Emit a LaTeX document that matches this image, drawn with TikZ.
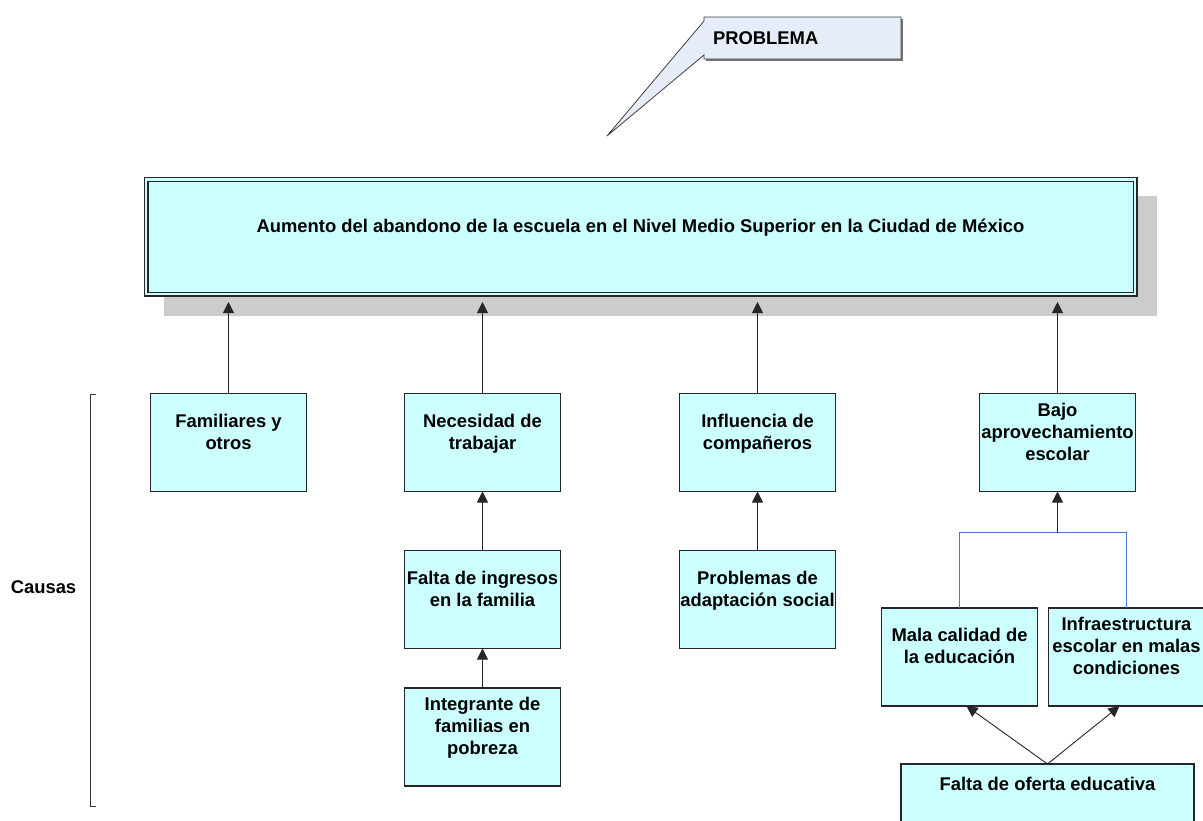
\documentclass[tikz,border=0pt]{standalone}
\usepackage{fontspec}
\setmainfont{Liberation Sans}
\usepackage{tikz}
\usetikzlibrary{shapes,arrows.meta,backgrounds}
\definecolor{boxfill}{HTML}{CCFFFF}
\definecolor{boxline}{HTML}{262626}
\definecolor{probfill}{HTML}{E6ECF8}
\definecolor{linkblue}{HTML}{4A78CC}
\definecolor{shadegray}{HTML}{CCCCCC}
\newcommand{\causefont}{\bfseries\fontsize{18.4}{22}\selectfont}
\tikzstyle{block} = [rectangle, draw=boxline, line width=1.3pt, fill=boxfill, align=center, inner xsep=1pt, minimum width=156pt, minimum height=98pt, outer sep=0pt, font=\causefont]
\tikzstyle{mainbox} = [block, minimum width=989pt, minimum height=114.5pt, double=boxfill, double distance=2.6pt, line width=1.2pt]
\tikzstyle{callbox} = [rectangle, text width=179pt, inner xsep=9pt, minimum height=42pt, outer sep=0pt, align=left, font=\causefont]
\tikzstyle{callout} = [draw=black!75, line width=0.8pt, fill=probfill, line join=miter]
\tikzstyle{line} = [draw, line width=0.9pt, black!85, -{Triangle[width=11pt,length=11pt]}]
\tikzstyle{bluelink} = [draw, line width=1.2pt, linkblue]
\tikzstyle{causebrace} = [draw, line width=0.9pt, black!80]

\begin{document}
\begin{tikzpicture}[x=1pt, y=1pt, node distance=254pt]
    \useasboundingbox (0,0) rectangle (1203,-820);
    \node [callbox] (problema) at (802.5,-38) {PROBLEMA};
    \coordinate (tip) at (607,-136);
    \node [mainbox] (main) at (640.5,-236.75) {Aumento del abandono de la escuela en el Nivel Medio Superior en la Ciudad de México\\~};
    \begin{scope}[on background layer]
        \fill [shadegray] ([xshift=18pt,yshift=-16.5pt]main.north west) rectangle ([xshift=22pt,yshift=-22pt]main.south east);
        \fill [black!55] ([xshift=2pt,yshift=-2pt]problema.north west) rectangle ([xshift=2pt,yshift=-2pt]problema.south east);
        \path [callout] (problema.north west) -- (problema.north east) -- (problema.south east) -- (problema.south west)
            -- ([yshift=4pt]problema.south west) -- (tip) -- ([yshift=-4pt]problema.north west) -- cycle;
    \end{scope}

    \node [block] (fam) at (228.5,-442.5) {Familiares y\\otros\\~};
    \node [block, right of=fam] (need) {Necesidad de\\trabajar\\~};
    \node [block, right of=need, node distance=275pt] (infl) {Influencia de\\compañeros\\~};
    \node [block, right of=infl, node distance=300pt] (bajo) {Bajo\\aprovechamiento\\escolar\\~};
    \node [block, below of=need, node distance=157pt] (ingresos) {Falta de ingresos\\en la familia\\~};
    \node [block, below of=ingresos, node distance=137.5pt] (pobreza) {Integrante de\\familias en\\pobreza\\~};
    \node [block, below of=infl, node distance=157pt] (adapt) {Problemas de\\adaptación social\\~};
    \node [block, below of=bajo, node distance=214.5pt, xshift=-98pt] (calidad) {Mala calidad de\\la educación\\~};
    \node [block, right of=calidad, node distance=167pt] (infra) {Infraestructura\\escolar en malas\\condiciones\\~};
    \node [block, below of=bajo, node distance=352.5pt, xshift=-10pt, minimum width=293pt, minimum height=62pt] (oferta) {Falta de oferta educativa\\~};

    \path [line, shorten >=8pt] (fam.north) -- (fam.north |- main.south);
    \path [line, shorten >=8pt] (need.north) -- (need.north |- main.south);
    \path [line, shorten >=8pt] (infl.north) -- (infl.north |- main.south);
    \path [line, shorten >=8pt] (bajo.north) -- (bajo.north |- main.south);
    \path [line] (ingresos) -- (need);
    \path [line] (pobreza) -- (ingresos);
    \path [line] (adapt) -- (infl);
    \coordinate (junc) at ([yshift=-41pt]bajo.south);
    \path [bluelink] (calidad.north) |- (junc) -| (infra.north);
    \path [line] (junc) -- (bajo.south);
    \path [line] (oferta.north) -- ([xshift=7pt]calidad.south);
    \path [line] (oferta.north) -- ([xshift=-7pt]infra.south);

    \coordinate (ctop) at (96,-394);
    \coordinate (cbot) at (96,-806);
    \path [causebrace] (ctop) -- ++(-6,0) |- (cbot);
    \node [font=\causefont] (causas) at (43.5,-587) {Causas};
  \end{tikzpicture}
\end{document}
